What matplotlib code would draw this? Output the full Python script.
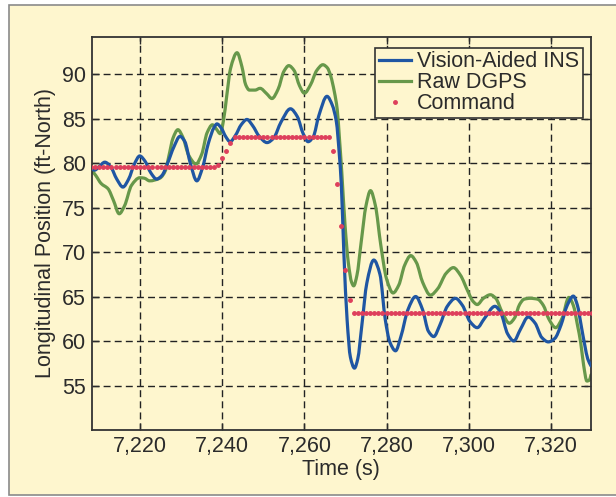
import matplotlib
matplotlib.use("Agg")
import numpy as np
import matplotlib.pyplot as plt
from matplotlib import font_manager
from matplotlib.patches import Rectangle, PathPatch
from matplotlib.path import Path
from matplotlib.lines import Line2D
from matplotlib.ticker import FuncFormatter

# ---- data -------------------------------------------------------------
ins_t = [7208.2, 7208.9, 7210.0, 7211.4, 7212.8, 7214.3, 7215.8, 7217.2, 7218.6, 7219.9,
         7221.2, 7222.6, 7224.0, 7225.3, 7226.7, 7228.2, 7229.7, 7230.9, 7232.2, 7233.8,
         7235.2, 7236.6, 7238.0, 7238.7, 7239.8, 7240.8, 7241.9, 7243.2, 7244.6, 7246.0,
         7247.4, 7249.0, 7250.9, 7252.5, 7254.3, 7256.6, 7258.3, 7259.7, 7260.9, 7262.2,
         7263.5, 7265.5, 7266.8, 7267.8, 7268.5, 7269.0, 7269.6, 7270.4, 7271.2, 7272.2,
         7273.0, 7274.0, 7275.2, 7276.9, 7278.4, 7279.7, 7280.8, 7282.2, 7283.5, 7285.2,
         7287.1, 7288.8, 7290.2, 7291.5, 7293.0, 7294.8, 7296.8, 7298.5, 7300.3, 7302.1,
         7303.8, 7306.4, 7307.8, 7309.5, 7311.0, 7312.6, 7314.5, 7316.2, 7317.8, 7319.4,
         7321.0, 7322.5, 7324.0, 7325.5, 7326.5, 7327.5, 7328.3, 7329.0, 7329.8]
ins_v = [79.35, 79.2, 79.6, 80.1, 79.6, 78.2, 77.3, 78.2, 79.9, 80.8,
         80.2, 78.9, 78.2, 78.6, 80.0, 81.8, 83.0, 82.4, 80.0, 78.0,
         79.5, 82.2, 84.0, 84.4, 83.9, 83.0, 82.4, 83.1, 84.3, 84.9,
         84.2, 83.0, 82.3, 82.8, 84.6, 86.1, 85.2, 83.3, 82.4, 83.0,
         85.3, 87.5, 86.5, 84.6, 81.0, 77.5, 70.0, 62.4, 58.2, 56.95,
         58.0, 61.8, 66.5, 69.1, 67.5, 62.4, 59.9, 58.9, 60.5, 63.5,
         65.0, 63.5, 61.1, 60.5, 61.8, 63.9, 64.8, 64.0, 62.2, 61.5,
         62.5, 63.9, 63.2, 60.8, 60.0, 61.3, 62.7, 62.0, 60.4, 59.9,
         60.3, 61.8, 64.0, 65.05, 64.0, 61.5, 59.5, 58.0, 57.2]

dgps_t = [7208.2, 7209.2, 7210.5, 7212.2, 7213.5, 7214.9, 7216.2, 7217.9, 7219.9, 7221.0,
          7222.3, 7224.8, 7226.2, 7227.0, 7228.0, 7229.2, 7230.4, 7231.8, 7233.6, 7235.0,
          7236.3, 7237.6, 7238.6, 7239.5, 7240.3, 7241.1, 7242.0, 7243.6, 7244.8, 7245.7,
          7246.6, 7248.0, 7249.2, 7250.8, 7252.1, 7253.6, 7255.0, 7256.2, 7257.5, 7258.8,
          7260.0, 7261.5, 7263.0, 7264.5, 7265.6, 7266.4, 7267.3, 7268.0, 7268.5, 7269.1,
          7269.9, 7270.7, 7271.5, 7272.0, 7272.8, 7273.8, 7275.0, 7276.1, 7277.3, 7278.6,
          7280.0, 7281.6, 7283.0, 7284.4, 7285.9, 7287.3, 7288.8, 7290.7, 7292.5, 7294.5,
          7296.3, 7298.0, 7299.8, 7301.0, 7302.1, 7303.6, 7305.3, 7306.6, 7308.2, 7309.9,
          7311.2, 7312.4, 7313.5, 7315.0, 7316.8, 7318.2, 7319.5, 7321.2, 7322.8, 7324.4,
          7325.5, 7326.5, 7327.3, 7328.0, 7328.8, 7329.4, 7329.8]
dgps_v = [79.2, 78.6, 77.7, 77.1, 75.8, 74.3, 75.2, 77.5, 78.35, 78.3,
          78.0, 78.3, 79.2, 80.8, 82.8, 83.75, 82.9, 80.9, 79.9, 81.0,
          83.4, 84.3, 83.8, 83.3, 84.8, 87.6, 90.6, 92.4, 90.8, 88.8,
          88.2, 88.2, 88.4, 87.8, 87.25, 88.3, 90.3, 90.95, 90.4, 88.7,
          87.85, 88.8, 90.4, 91.05, 90.7, 89.8, 88.0, 86.0, 83.0, 79.0,
          73.0, 68.8, 66.6, 66.2, 67.4, 71.0, 75.2, 76.9, 75.2, 70.8,
          67.0, 65.4, 66.3, 68.5, 69.6, 68.8, 66.6, 65.15, 65.9, 67.6,
          68.25, 67.4, 65.6, 64.5, 64.1, 64.8, 65.2, 64.8, 63.2, 62.0,
          62.6, 64.1, 64.7, 64.8, 64.7, 64.0, 62.5, 61.5, 62.6, 64.9,
          64.0, 61.8, 59.8, 57.3, 55.5, 55.6, 56.2]

# commanded position, one sample per second
cmd_t = list(range(7208, 7331))
cmd_v = ([79.6] * 31
         + [79.8, 80.6, 81.4, 82.3]
         + [82.9] * 24
         + [81.35, 77.7, 72.95, 67.95, 64.6]
         + [63.1] * 59)

x_ticks = [7220, 7240, 7260, 7280, 7300, 7320]
y_ticks = [55, 60, 65, 70, 75, 80, 85, 90]


def smooth_path(t, v):
    """Cubic Bezier path through every sample, with monotone (PCHIP) tangents."""
    t = np.asarray(t, float)
    v = np.asarray(v, float)
    h = np.diff(t)
    d = np.diff(v) / h
    m = np.zeros_like(v)
    for i in range(1, len(v) - 1):
        if d[i - 1] * d[i] > 0:
            w1 = 2 * h[i] + h[i - 1]
            w2 = h[i] + 2 * h[i - 1]
            m[i] = (w1 + w2) / (w1 / d[i - 1] + w2 / d[i])
    m[0], m[-1] = d[0], d[-1]
    verts = [(t[0], v[0])]
    codes = [Path.MOVETO]
    for i in range(len(h)):
        verts += [(t[i] + h[i] / 3, v[i] + m[i] * h[i] / 3),
                  (t[i + 1] - h[i] / 3, v[i + 1] - m[i + 1] * h[i] / 3),
                  (t[i + 1], v[i + 1])]
        codes += [Path.CURVE4] * 3
    return Path(verts, codes)


# ---- style ------------------------------------------------------------
available = {f.name for f in font_manager.fontManager.ttflist}
narrow = "Liberation Sans Narrow" if "Liberation Sans Narrow" in available else "Liberation Sans"
plt.rcParams["font.family"] = [narrow, "DejaVu Sans"]

cream = "#FEF6CE"
ink = "#2b2b2b"
blue = "#1F56A3"
green = "#67984A"
red = "#DE3F5C"
lw = 2.3

fig = plt.figure(figsize=(6.16, 4.97), dpi=100)
fig.patch.set_facecolor("white")
panel = Rectangle((9 / 616, 1 - 495 / 497), 1.0, 490 / 497,
                  transform=fig.transFigure, facecolor=cream,
                  edgecolor="#8a8a8a", linewidth=1.2, zorder=-5)
fig.patches.append(panel)

ax = fig.add_axes([91.7 / 616, 1 - 430 / 497, (591 - 91.7) / 616, (430 - 36.7) / 497])
ax.set_zorder(1)
ax.set_facecolor(cream)

ax.add_patch(PathPatch(smooth_path(dgps_t, dgps_v), facecolor="none", edgecolor=green,
                       lw=lw, zorder=2, capstyle="round", joinstyle="round"))
ax.add_patch(PathPatch(smooth_path(ins_t, ins_v), facecolor="none", edgecolor=blue,
                       lw=lw, zorder=3, capstyle="round", joinstyle="round"))
ax.plot(cmd_t, cmd_v, ls="none", marker="o", ms=2.5, color=red, zorder=4)

ax.set_xlim(7208.2, 7329.8)
ax.set_ylim(50, 94.2)
ax.set_xticks(x_ticks)
ax.set_yticks(y_ticks)
ax.xaxis.set_major_formatter(FuncFormatter(lambda v, p: f"{v:,.0f}"))

ax.grid(True, color="#222222", lw=1.0, linestyle=(0, (5, 3)))
ax.set_axisbelow(True)
ax.tick_params(direction="in", length=5, width=1, colors=ink, labelsize=15.5,
               top=True, right=True, pad=4)
for s in ax.spines.values():
    s.set_color("#333333")
    s.set_linewidth(1.3)

ax.set_xlabel("Time (s)", fontsize=15.5, color=ink, labelpad=2)
ax.set_ylabel("Longitudinal Position (ft-North)", fontsize=15.5, color=ink, labelpad=4)

handles = [Line2D([], [], color=blue, lw=lw),
           Line2D([], [], color=green, lw=lw),
           Line2D([], [], ls="none", marker="o", ms=2.5, color=red)]
labels = ["Vision-Aided INS", "Raw DGPS", "Command"]
leg = ax.legend(handles, labels, loc="upper right", bbox_to_anchor=(0.992, 0.982),
                fontsize=15.5, frameon=True, fancybox=False, handlelength=1.5,
                handletextpad=0.3, borderpad=0.15, labelspacing=0.0, borderaxespad=0.2)
leg.get_frame().set_facecolor(cream)
leg.get_frame().set_edgecolor("#333333")
leg.get_frame().set_linewidth(1.2)
leg.get_frame().set_alpha(1)
for t in leg.get_texts():
    t.set_color(ink)

fig.savefig("out.png", dpi=100, facecolor=fig.get_facecolor())
